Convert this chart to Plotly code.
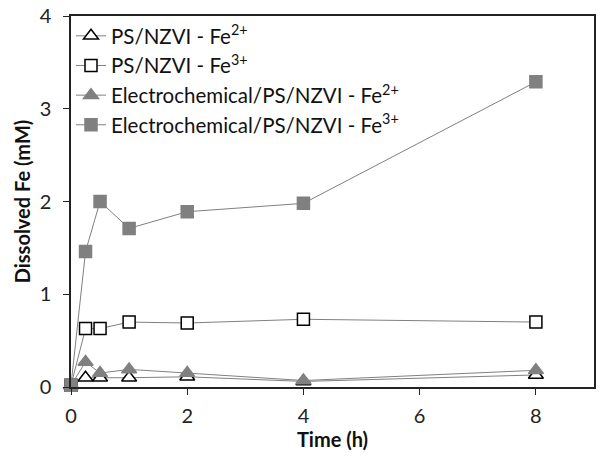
import plotly.graph_objects as go

time_h = [0, 0.25, 0.5, 1, 2, 4, 8]
ps_fe2 = [0.02, 0.10, 0.10, 0.10, 0.11, 0.06, 0.13]
ps_fe3 = [0.02, 0.63, 0.63, 0.70, 0.69, 0.73, 0.70]
ec_fe2 = [0.02, 0.27, 0.15, 0.19, 0.15, 0.07, 0.18]
ec_fe3 = [0.02, 1.46, 2.00, 1.71, 1.89, 1.98, 3.29]

names = ["PS/NZVI - Fe<sup>2+</sup>", "PS/NZVI - Fe<sup>3+</sup>",
         "Electrochemical/PS/NZVI - Fe<sup>2+</sup>", "Electrochemical/PS/NZVI - Fe<sup>3+</sup>"]

gray = "#808080"
fig = go.Figure()
series = [
    (ps_fe2, "triangle-up", "white", "black", 13),
    (ps_fe3, "square", "white", "black", 12),
    (ec_fe2, "triangle-up", gray, gray, 13),
    (ec_fe3, "square", gray, gray, 12),
]
for (vals, sym, fill, edge, sz), nm in zip(series, names):
    fig.add_trace(go.Scatter(
        x=time_h, y=vals, name=nm, mode="lines+markers",
        line=dict(color=gray, width=1),
        marker=dict(symbol=sym, size=sz, color=fill, line=dict(color=edge, width=1.5)),
        cliponaxis=False,
    ))

fig.update_layout(
    width=599, height=459,
    margin=dict(l=71, r=3, t=16, b=72),
    paper_bgcolor="white", plot_bgcolor="white",
    font=dict(family="Lato, Open Sans, sans-serif", size=20, color="#222"),
    showlegend=True,
    legend=dict(x=0.0, y=1.0, xanchor="left", yanchor="top",
                bgcolor="rgba(0,0,0,0)", font=dict(size=20.5, color="#111")),
    xaxis=dict(range=[0, 9], tickvals=[0, 2, 4, 6, 8], showgrid=False, zeroline=False,
               showline=True, linecolor="#222", linewidth=1.5, mirror=True,
               ticks="outside", ticklen=6, tickcolor="#222", ticklabelstandoff=4,
               tickfont=dict(size=20, color="#222"),
               title=dict(text="<b>Time (h)</b>", font=dict(size=20, color="#111"), standoff=6)),
    yaxis=dict(range=[0, 4], tickvals=[0, 1, 2, 3, 4], showgrid=False, zeroline=False,
               showline=True, linecolor="#222", linewidth=1.5, mirror=True,
               ticks="outside", ticklen=6, tickcolor="#222", ticklabelstandoff=8,
               tickfont=dict(size=20, color="#222"),
               title=dict(text="<b>Dissolved Fe (mM)</b>", font=dict(size=20, color="#111"), standoff=4)),
)
fig.write_html("out.html")
